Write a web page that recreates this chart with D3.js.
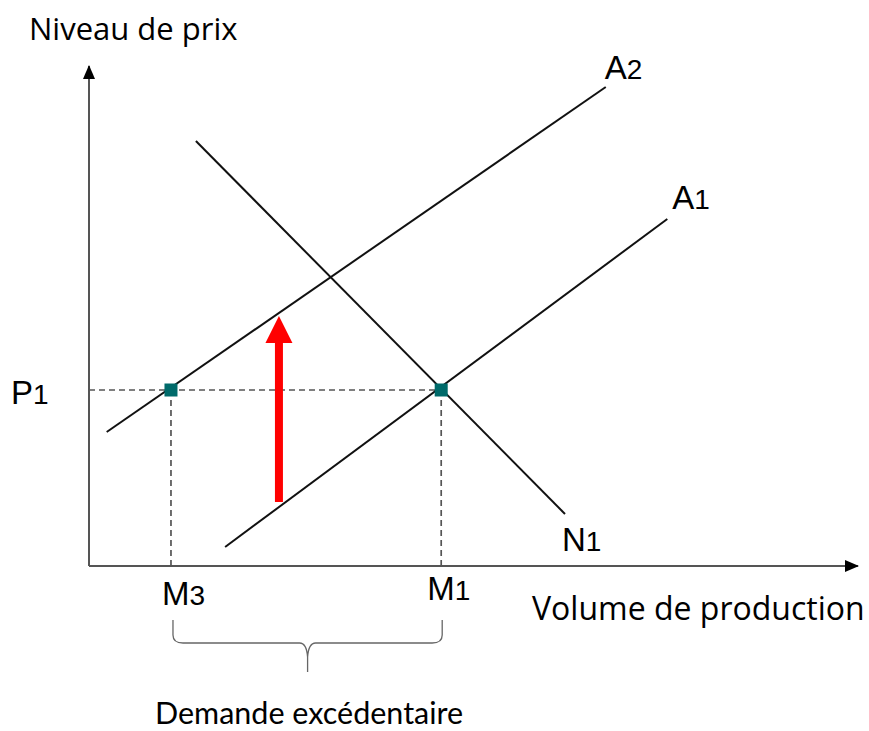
<!DOCTYPE html>
<html>
<head>
<meta charset="utf-8">
<script src="https://cdn.jsdelivr.net/npm/d3@7"></script>
<style>
  html, body { margin: 0; padding: 0; background: #fff; }
  svg { display: block; }
</style>
</head>
<body>
<script>
// ---- data (abstract units: quantity 0..100, price 0..100) ----
const curveNames = ["A2", "A1", "N1"];
const curveX = [[2.3, 67.2], [17.7, 75.2], [13.9, 61.9]];
const curveY = [[26.8, 95.8], [3.8, 69.4], [85.0, 10.4]];
const equilibriumNames = ["M3", "M1"];
const equilibriumX = [10.66, 45.8];
const priceLevel = 35.2;          // P1
const priceLabel = "P1";
const shiftX = 24.7;              // red arrow position
const shiftY = [12.8, 50.0];      // from A1 up to A2
const axisTitles = ["Niveau de prix", "Volume de production"];
const braceLabel = "Demande excédentaire";

const W = 869, H = 731;
const svg = d3.select("body").append("svg").attr("width", W).attr("height", H);

const x = d3.scaleLinear().domain([0, 100]).range([89, 858]);
const y = d3.scaleLinear().domain([0, 100]).range([566, 66]);

const defs = svg.append("defs");
defs.append("marker").attr("id", "axArrow")
  .attr("viewBox", "0 0 14 12").attr("refX", 13).attr("refY", 6)
  .attr("markerWidth", 14).attr("markerHeight", 12).attr("markerUnits", "userSpaceOnUse")
  .attr("orient", "auto")
  .append("path").attr("d", "M0,0 L14,6 L0,12 Z").attr("fill", "#000");

// axes
svg.append("line").attr("x1", x(0)).attr("y1", y(0)).attr("x2", x(0)).attr("y2", y(100))
  .attr("stroke", "#555").attr("stroke-width", 2).attr("marker-end", "url(#axArrow)");
svg.append("line").attr("x1", x(0)).attr("y1", y(0)).attr("x2", x(100)).attr("y2", y(0))
  .attr("stroke", "#555").attr("stroke-width", 2).attr("marker-end", "url(#axArrow)");

// dashed guides
const dash = svg.append("g").attr("stroke", "#555").attr("stroke-width", 1.7)
  .attr("stroke-dasharray", "6,4").attr("fill", "none");
dash.append("line").attr("x1", x(0)).attr("x2", x(equilibriumX[1]))
  .attr("y1", y(priceLevel)).attr("y2", y(priceLevel));
equilibriumX.forEach(v => {
  dash.append("line").attr("x1", x(v)).attr("x2", x(v))
    .attr("y1", y(priceLevel)).attr("y2", y(0));
});

// curves
const line = d3.line().x(d => x(d[0])).y(d => y(d[1]));
curveNames.forEach((n, i) => {
  svg.append("path")
    .attr("d", line([[curveX[i][0], curveY[i][0]], [curveX[i][1], curveY[i][1]]]))
    .attr("stroke", "#111").attr("stroke-width", 2).attr("fill", "none");
});

// red arrow
const ax = x(shiftX), ay0 = y(shiftY[0]), ay1 = y(shiftY[1]);
const headH = 27, headW = 27, shaftW = 8;
svg.append("path")
  .attr("d", `M${ax - shaftW/2},${ay0} L${ax - shaftW/2},${ay1 + headH} L${ax - headW/2},${ay1 + headH} L${ax},${ay1} L${ax + headW/2},${ay1 + headH} L${ax + shaftW/2},${ay1 + headH} L${ax + shaftW/2},${ay0} Z`)
  .attr("fill", "#ff0000");

// equilibrium squares
equilibriumX.forEach(v => {
  svg.append("rect").attr("x", x(v) - 6.5).attr("y", y(priceLevel) - 6.5)
    .attr("width", 13).attr("height", 13).attr("fill", "#006a6a");
});

// labels with subscript-like digits
function label(txt, px, py) {
  const t = svg.append("text").attr("x", px).attr("y", py)
    .attr("font-family", "Liberation Sans, Arial, sans-serif").attr("fill", "#000");
  t.append("tspan").attr("font-size", 33).text(txt[0]);
  t.append("tspan").attr("font-size", 28).text(txt.slice(1));
}
label(priceLabel, 11, y(priceLevel) + 14);
label(equilibriumNames[0], x(equilibriumX[0]) - 9, y(0) + 39);
label(equilibriumNames[1], x(equilibriumX[1]) - 14, y(0) + 34);
label(curveNames[0], x(curveX[0][1]) - 1, y(curveY[0][1]) - 8);
label(curveNames[1], x(curveX[1][1]) + 5, y(curveY[1][1]) - 10);
label(curveNames[2], x(curveX[2][1]) - 3, y(curveY[2][1]) + 37);

// axis titles
svg.append("text").attr("x", 29).attr("y", 40)
  .attr("font-family", "Open Sans, sans-serif").attr("font-size", 31).attr("fill", "#000")
  .text(axisTitles[0]);
svg.append("text").attr("x", 532).attr("y", 620)
  .attr("font-family", "Open Sans, sans-serif").attr("font-size", 32).attr("fill", "#000")
  .text(axisTitles[1]);

// brace
const bL = x(equilibriumX[0]) + 2, bR = x(equilibriumX[1]) + 1;
const bM = (bL + bR) / 2;
const bTop = y(0) + 54, bMid = y(0) + 77, bTip = y(0) + 106;
const bp = d3.path();
bp.moveTo(bL, bTop);
bp.lineTo(bL, bMid - 8);
bp.quadraticCurveTo(bL, bMid, bL + 10, bMid);
bp.lineTo(bM - 8, bMid);
bp.quadraticCurveTo(bM - 1, bMid, bM, bMid + 14);
bp.lineTo(bM, bTip);
bp.moveTo(bM, bMid + 14);
bp.quadraticCurveTo(bM + 1, bMid, bM + 8, bMid);
bp.lineTo(bR - 10, bMid);
bp.quadraticCurveTo(bR, bMid, bR, bMid - 8);
bp.lineTo(bR, bTop);
svg.append("path").attr("d", bp.toString()).attr("fill", "none")
  .attr("stroke", "#666").attr("stroke-width", 1.3);

svg.append("text").attr("x", 155).attr("y", 724)
  .attr("font-family", "Lato, sans-serif").attr("font-size", 30.5).attr("fill", "#000")
  .text(braceLabel);
</script>
</body>
</html>
